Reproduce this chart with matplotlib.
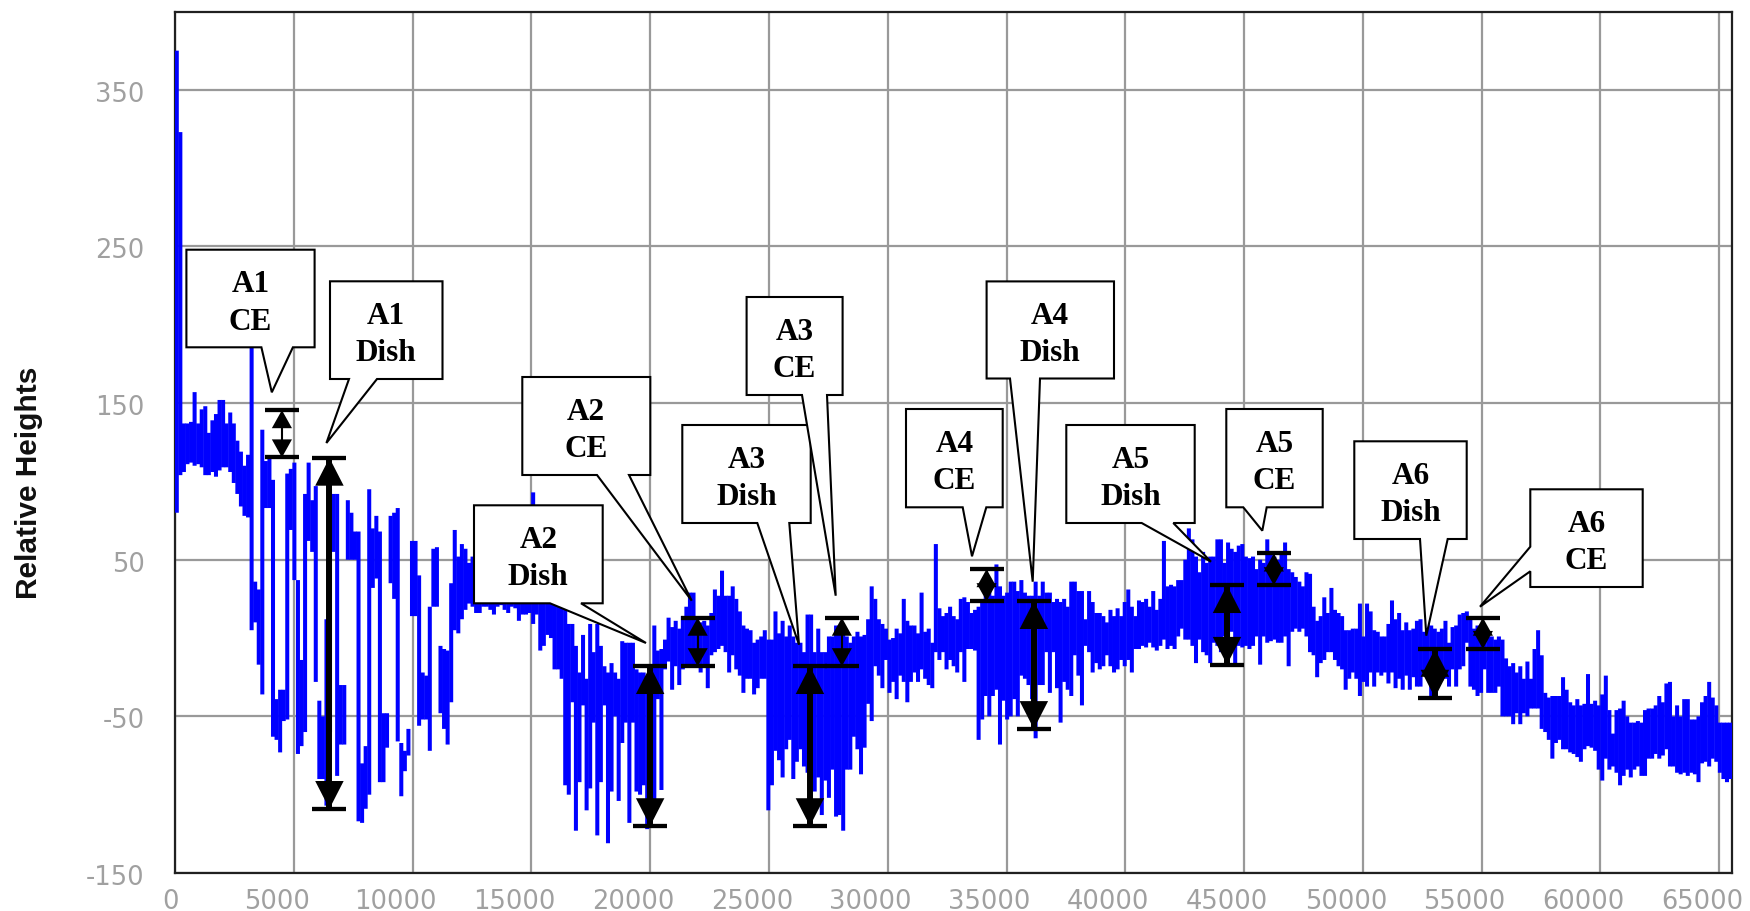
import numpy as np
import matplotlib
matplotlib.use('Agg')
import matplotlib.pyplot as plt
from matplotlib.patches import Polygon
from matplotlib.transforms import Affine2D, ScaledTranslation

plt.rcParams['axes.unicode_minus'] = False

# min / max of the trace in each 150 wide bin
trace_hi = [375,323,137,137,138,157,137,146,148,131,
    139,143,152,152,137,144,137,126,119,110,
    117,190,36,31,133,113,115,101,-39,-33,
    -33,105,108,112,37,-14,92,112,88,97,
    -40,-50,12,95,92,92,-30,-30,88,80,
    68,68,-80,-69,95,70,78,68,-48,-48,
    78,80,83,-67,-72,-58,62,62,40,-22,
    -24,20,57,58,-5,-7,-8,35,69,52,
    60,57,48,52,45,40,40,38,40,38,
    35,35,35,34,35,35,33,33,33,33,
    93,32,30,30,30,30,28,28,25,20,
    9,9,-5,-22,2,-26,9,-9,9,-5,
    -18,-22,-16,-22,-26,-2,-3,-3,-3,-20,
    -22,-22,-28,-25,8,-8,-7,-1,13,7,
    11,6,14,20,29,29,12,10,11,8,
    16,31,27,43,27,27,33,25,17,8,
    6,5,-3,-1,1,5,-1,-1,17,3,
    11,1,8,1,-3,-3,-9,15,15,-9,
    6,-9,-9,1,1,8,8,6,1,-3,
    1,4,1,2,12,33,25,12,9,6,
    -1,0,6,3,25,11,8,8,3,29,
    4,6,-3,60,19,14,16,20,14,12,
    25,26,23,16,18,20,23,27,31,27,
    47,33,27,29,36,36,30,37,29,27,
    27,36,27,36,29,29,23,25,23,25,
    20,36,36,30,30,12,30,23,16,16,
    14,10,18,14,19,14,23,31,20,14,
    24,23,25,20,30,18,25,62,33,34,
    33,37,37,50,70,63,52,42,55,48,
    52,52,63,63,48,61,57,55,59,60,
    52,51,52,44,50,48,63,55,52,50,
    55,61,44,42,39,36,33,42,41,20,
    11,14,26,16,32,18,16,14,5,5,
    6,6,22,1,22,17,5,4,1,1,
    9,24,12,16,5,10,5,6,11,12,
    4,10,8,6,4,6,11,-3,7,8,
    15,16,17,14,6,8,1,2,1,1,
    -1,1,-1,-13,-18,-16,-22,-18,-26,-15,
    -26,-7,5,-11,-35,-38,-37,-37,-37,-25,
    -33,-41,-43,-39,-43,-42,-23,-42,-40,-43,
    -36,-24,-46,-61,-46,-45,-40,-50,-54,-54,
    -53,-54,-46,-45,-45,-43,-37,-41,-29,-28,
    -50,-43,-50,-39,-39,-52,-52,-50,-41,-37,
    -28,-38,-43,-54,-54,-54,-54]

trace_lo = [80,104,106,111,112,110,111,109,104,104,
    106,103,107,109,109,106,99,92,84,78,
    77,5,10,-17,-36,83,83,-63,-65,-73,
    -53,-52,69,37,-74,-69,-60,62,55,-28,
    -90,-90,-107,-60,55,-88,-68,-68,50,50,
    50,-117,-118,-109,-100,32,38,-92,-92,-70,
    35,25,-66,-101,-85,-75,14,14,-56,-52,
    -52,-72,20,20,-48,-58,-68,-41,5,3,
    12,18,22,20,16,16,20,20,18,15,
    20,21,18,16,20,19,11,15,15,16,
    9,15,-8,-5,2,0,-20,-20,-26,-94,
    -100,-41,-123,-92,-43,-110,-96,-54,-126,-92,
    -43,-131,-98,-50,-104,-67,-54,-118,-54,-98,
    -100,-94,-122,-90,-107,-39,-97,-20,-15,-33,
    -18,-30,-20,-18,-18,-18,-18,-22,-18,-32,
    -11,-9,-7,-5,-9,-22,-11,-20,-24,-35,
    -26,-26,-36,-32,-26,-26,-110,-94,-72,-78,
    -89,-71,-65,-90,-79,-71,-82,-86,-90,-98,
    -89,-113,-91,-102,-84,-114,-113,-123,-84,-84,
    -63,-71,-87,-70,-42,-53,-18,-24,-32,-14,
    -35,-28,-39,-24,-28,-41,-28,-22,-28,-20,
    -26,-30,-32,-9,-14,-9,-20,-14,-18,-22,
    -9,-28,-7,-7,-8,-65,-52,-37,-50,-37,
    -33,-68,-40,-52,-50,-39,-50,-24,-26,-30,
    -39,-64,-30,-30,-9,-35,-9,-32,-54,-28,
    -33,-37,-11,-24,-43,-5,-9,-22,-16,-20,
    -18,-11,-18,-22,-20,-14,-18,-14,-22,-7,
    -7,-5,-6,-3,-6,-8,-5,-1,-7,-5,
    -7,1,6,-1,-1,-5,-16,-1,-9,-11,
    -16,-3,-5,-9,1,-7,4,-16,-5,-6,
    -5,-7,-5,1,-17,1,-3,-2,-1,-3,
    -3,1,-18,4,6,4,6,1,-9,-11,
    -25,-16,-14,-9,-9,-14,-18,-20,-33,-26,
    -22,-26,-37,-28,-31,-22,-31,-22,-24,-22,
    -29,-22,-32,-26,-33,-24,-33,-25,-31,-31,
    -22,-22,-37,-37,-26,-27,-26,-31,-20,-31,
    -20,-18,-3,-31,-33,-37,-35,-20,-35,-35,
    -35,-31,-50,-50,-50,-55,-48,-55,-48,-50,
    -45,-45,-45,-58,-60,-65,-77,-67,-65,-71,
    -71,-73,-74,-76,-79,-71,-69,-70,-72,-84,
    -91,-77,-84,-82,-86,-94,-88,-84,-89,-84,
    -82,-88,-88,-77,-77,-74,-77,-75,-71,-82,
    -82,-86,-87,-86,-88,-86,-87,-92,-80,-79,
    -82,-77,-79,-86,-90,-92,-90]

# measured heights: dishing gets the big arrows, CE the small ones
dish_x = [6500,20000,26725,36150,44280,53030]
dish_top = [115,-18,-18,23.5,33.7,-7]
dish_bot = [-109,-120,-120,-58,-17,-38]
ce_x = [4500,22000,28070,34160,46250,55050]
ce_top = [145.5,13,13,44,54,13]
ce_bot = [115.3,-18,-18,23.5,33.7,-7]

x_ticks = [0,5000,10000,15000,20000,25000,30000,35000,40000,45000,50000,55000,60000,65000]
y_ticks = [-150,-50,50,150,250,350]

# callouts in image pixels: text, left, top, right, bottom, tail points
callouts = [
    ('A3\nDish', 682.3,426,810.7,524, [(757.3,524),(799,645.7),(789.3,524)]),
    ('A1\nCE', 186.4,250.7,314.6,348.3, [(261.4,348.3),(271.8,393.3),(292.9,348.3)]),
    ('A1\nDish', 330,282.3,442.5,380, [(349,380),(326.4,444),(377,380)]),
    ('A2\nCE', 522.3,378,650.3,476, [(597,476),(691.7,601.7),(629,476)]),
    ('A2\nDish', 474,506.3,602.7,604.3, [(550,604.3),(646,644),(581,604.3)]),
    ('A3\nCE', 746.6,298,842.6,396, [(802,396),(835.7,596.7),(827,396)]),
    ('A4\nCE', 906,410,1002.7,508.3, [(962.7,508.3),(972,557.3),(986.3,508.3)]),
    ('A4\nDish', 986.6,282.4,1114,379.5, [(1010,379.5),(1032.7,582.7),(1040,379.5)]),
    ('A5\nDish', 1066.3,426,1194.7,524, [(1141.7,524),(1211,562.7),(1173.3,524)]),
    ('A5\nCE', 1226.3,410,1322.7,508.3, [(1243.3,508.3),(1262.3,531.7),(1266.7,508.3)]),
    ('A6\nDish', 1354.3,442.3,1466.7,540, [(1420,540),(1426.3,636.7),(1447.7,540)]),
    ('A6\nCE', 1530.3,490.3,1642.7,588, [(1530.3,572.3),(1480,607.7),(1530.3,547.7)]),
]

def add_head(ax, x, y, direction, h, w):
    # triangle with its tip on (x, y), h and w in points
    ax.annotate('', xy=(x,y), xytext=(0,direction*h), textcoords='offset points',
                annotation_clip=False, zorder=5,
                arrowprops=dict(arrowstyle='-|>,head_length=%g,head_width=%g' % (h,w/2.),
                                mutation_scale=1, lw=0, color='black', shrinkA=0, shrinkB=0))

def add_measure(ax, x, top, bot, h, w, shaft):
    ax.vlines(x, bot, top, color='black', lw=shaft, zorder=4)
    ax.plot([x,x], [top,bot], ls='none', marker='_', ms=24, mew=3.1, color='black', zorder=5)
    add_head(ax, x, top, -1, h, w)
    add_head(ax, x, bot, 1, h, w)

fig = plt.figure(figsize=(17.5,9.12), dpi=100)
ax = fig.add_axes([175/1750., 38/912., 1557/1750., 861.5/912.])

bins = np.arange(len(trace_hi))*150+75
trace = ax.vlines(bins, trace_lo, trace_hi, color='#0000ff', lw=2.9, capstyle='butt', zorder=3)
trace.set_snap(False)

for i in range(len(dish_x)):
    add_measure(ax, dish_x[i], dish_top[i], dish_bot[i], 20, 20.5, 4.3)
for i in range(len(ce_x)):
    add_measure(ax, ce_x[i], ce_top[i], ce_bot[i], 13, 14.5, 1.5)

ax.set_xlim(0,65536)
ax.set_ylim(-150,400)
ax.set_xticks(x_ticks)
ax.set_yticks(y_ticks)
ax.grid(True, color='#999999', lw=1.6)
ax.set_axisbelow(True)
for s in ax.spines.values():
    s.set_linewidth(1.6)
    s.set_color('#202020')
    s.set_zorder(2.5)

ax.tick_params(axis='both', length=0, labelcolor='#a0a0a0', labelsize=18.5)
ax.tick_params(axis='x', pad=11)
ax.tick_params(axis='y', pad=22)
for lab, val in zip(ax.get_xticklabels(), x_ticks):
    dx = -5 if val == 0 else -17
    lab.set_transform(lab.get_transform()+ScaledTranslation(dx/100., 0, fig.dpi_scale_trans))
for lab in ax.get_yticklabels():
    lab.set_transform(lab.get_transform()+ScaledTranslation(0, -1/100., fig.dpi_scale_trans))

fig.text(29/1750., 1-483/912., 'Relative Heights', rotation=90, ha='center', va='center',
         fontsize=21.5, fontweight='bold', color='#101010', family='Liberation Sans')

# pixels of the image -> figure
px = Affine2D().scale(1/1750., -1/912.).translate(0,1)+fig.transFigure
for text, l, t, r, b, tail in callouts:
    if tail[0][0] == l:
        pts = [(l,t),(r,t),(r,b),(l,b)]+tail
    else:
        pts = [(l,t),(r,t),(r,b)]+tail[::-1]+[(l,b)]
    fig.add_artist(Polygon(pts, closed=True, facecolor='white', edgecolor='black', lw=1.5,
                           joinstyle='miter', transform=px))
    fig.text((l+r)/2./1750., 1-((t+b)/2.+4)/912., text, ha='center', va='center', fontsize=22.5,
             fontweight='bold', family='Liberation Serif', linespacing=1.38, color='black')

plt.savefig('out.png', dpi=100)
